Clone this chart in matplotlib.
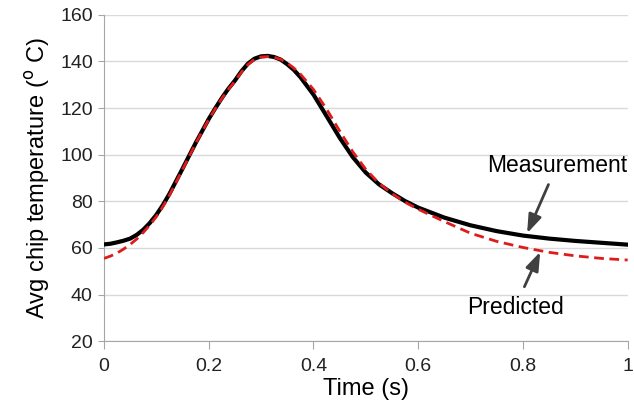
import numpy as np
import matplotlib
matplotlib.use("Agg")
import matplotlib.pyplot as plt

plt.rcParams['font.family'] = ['Liberation Sans', 'DejaVu Sans']

# time (s)
t = [0, 0.0125, 0.025, 0.0375, 0.05, 0.0625, 0.075, 0.0875, 0.1, 0.1125,
     0.125, 0.15, 0.175, 0.2, 0.2125, 0.225, 0.2375, 0.25,
     0.2625, 0.275, 0.2875, 0.3, 0.3125, 0.325, 0.3375, 0.35, 0.3625, 0.375,
     0.4, 0.425, 0.45, 0.475, 0.5, 0.525, 0.55, 0.575, 0.6,
     0.65, 0.7, 0.75, 0.8, 0.85, 0.9, 0.95, 1.0]

measured = [61.5, 61.8, 62.4, 63.1, 64, 65.6, 67.8, 70.7, 74.2, 78.4,
            83.2, 94, 105, 115.3, 119.9, 124.3, 128.3, 131.8,
            135.8, 139.1, 141.2, 142.2, 142.4, 141.9, 140.8, 138.8, 136.4, 133.3,
            125.8, 116.6, 107.3, 99, 92.3, 87.3, 83.5, 80.1, 77.3,
            73, 69.7, 67.2, 65.3, 64, 63, 62.2, 61.4]

predicted = [55.5, 56.5, 57.8, 59.5, 61.5, 63.8, 66.6, 69.8, 73.4, 77.7,
             82.6, 93.6, 104.8, 115.1, 119.7, 124.1, 128, 131.5,
             135.4, 138.7, 140.9, 141.9, 142.1, 141.8, 140.9, 139.3, 137.2, 134.6,
             128, 119.6, 110.2, 101.3, 93.7, 87.8, 83.3, 79.6, 76.6,
             71.3, 66.3, 62.8, 60.2, 58.1, 56.6, 55.5, 54.8]

yticks = [20, 40, 60, 80, 100, 120, 140, 160]
xticks = [0, 0.2, 0.4, 0.6, 0.8, 1]

fig = plt.figure(figsize=(6.34, 4.13), dpi=100)
ax = fig.add_axes([0.164, 0.174, 0.826, 0.79])

ax.plot(t, measured, color='black', lw=3, solid_joinstyle='round', zorder=3)
ax.plot(t, predicted, color='#dd1c1c', lw=2, ls=(0, (3.5, 2)), zorder=4)

ax.set_xlim(0, 1)
ax.set_ylim(20, 160)
ax.set_yticks(yticks)
ax.set_xticks(xticks)
ax.set_xticklabels(['0', '0.2', '0.4', '0.6', '0.8', '1'])
ax.grid(axis='y', color='#d9d9d9', lw=1)
ax.set_axisbelow(True)

for s in ['top', 'right']:
    ax.spines[s].set_visible(False)
for s in ['left', 'bottom']:
    ax.spines[s].set_color('#a6a6a6')
ax.tick_params(axis='both', colors='#a6a6a6', labelcolor='#222222', labelsize=14)
ax.tick_params(axis='x', length=6, pad=6)
ax.tick_params(axis='y', length=4, pad=4)

ax.set_xlabel('Time (s)', fontsize=17, labelpad=2)
ax.set_ylabel('Avg chip temperature ($^{\\rm o}$ C)', fontsize=17, labelpad=6)

ax.annotate('Measurement', xy=(0.808, 66.3), xytext=(0.865, 95.5),
            fontsize=16.5, ha='center', va='center',
            arrowprops=dict(arrowstyle='-|>,head_length=0.7,head_width=0.25',
                            color='#404040', lw=2,
                            mutation_scale=16, shrinkA=4, shrinkB=0))
ax.annotate('Predicted', xy=(0.833, 58.3), xytext=(0.785, 34.5),
            fontsize=16.5, ha='center', va='center',
            arrowprops=dict(arrowstyle='-|>,head_length=0.7,head_width=0.25',
                            color='#404040', lw=2,
                            mutation_scale=16, shrinkA=5, shrinkB=0))

fig.savefig('out.png', dpi=100)
